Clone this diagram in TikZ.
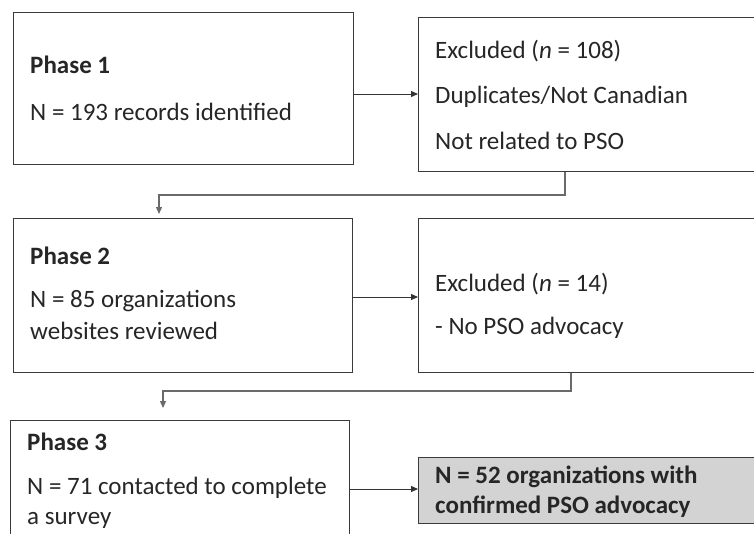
\documentclass[tikz,border=0pt]{standalone}
\usepackage{fontspec}
\setmainfont{Carlito}
\usetikzlibrary{arrows.meta,calc}
\definecolor{boxline}{HTML}{3A3A3A}
\definecolor{connline}{HTML}{6A6A6A}
\definecolor{grayfill}{HTML}{D4D3D3}
\begin{document}
\begin{tikzpicture}[x=1pt,y=-1pt,
  box/.style={draw=boxline,line width=1.3pt,rectangle,anchor=north west,inner sep=0pt},
  txt/.style={anchor=base west,inner sep=0pt,font=\fontsize{25}{29}\selectfont,text=black!85},
  btxt/.style={txt,font=\fontsize{25}{29}\selectfont\bfseries},
  arr/.style={draw=black!80,line width=1pt,-{Triangle[length=7pt,width=6pt]}},
  conn/.style={draw=connline,line width=1.2pt,-{Triangle[length=7pt,width=6pt]}}]
\useasboundingbox (0,0) rectangle (754,533);
% boxes
\node[box,minimum width=340pt,minimum height=152pt] (p1) at (13,12) {};
\node[box,minimum width=360pt,minimum height=154pt] (e1) at (418,17) {};
\node[box,minimum width=339pt,minimum height=154pt] (p2) at (13,218) {};
\node[box,minimum width=360pt,minimum height=154pt] (e2) at (418,218) {};
\node[box,minimum width=339pt,minimum height=140pt] (p3) at (10,420) {};
\node[box,fill=grayfill,minimum width=360pt,minimum height=66pt] (g) at (418,457) {};
% texts
\node[btxt] (t1a) at (30,73) {Phase 1};
\node[txt] (t1b) at (30,120) {N = 193 records identified};
\node[txt] (e1a) at (435,58) {Excluded (\textit{n} = 108)};
\node[txt] (e1b) at (435,103) {Duplicates/Not Canadian};
\node[txt] (e1c) at (435,149) {Not related to PSO};
\node[btxt] (t2a) at (30,264) {Phase 2};
\node[txt] (t2b) at (30,307) {N = 85 organizations};
\node[txt] (t2c) at (30,339) {websites reviewed};
\node[txt] (e2a) at (435,291) {Excluded (\textit{n} = 14)};
\node[txt] (e2b) at (435,334) {- No PSO advocacy};
\node[btxt] (t3a) at (27,450) {Phase 3};
\node[txt] (t3b) at (27,494) {N = 71 contacted to complete};
\node[txt] (t3c) at (27,524) {a survey};
\node[btxt] (ga) at (435,483) {N = 52 organizations with};
\node[btxt] (gb) at (435,513) {confirmed PSO advocacy};
% horizontal arrows
\draw[arr] (p1.east |- 0,94) -- (e1.west |- 0,94);
\draw[arr] (p2.east |- 0,297) -- (e2.west |- 0,297);
\draw[arr] (p3.east |- 0,489) -- (g.west |- 0,489);
% connectors between phases
\coordinate (j1) at (159,195);
\coordinate (j2) at (163,391);
\draw[conn,shorten >=4pt] ($(e1.south west)+(147,0)$) |- (j1) -- (p2.north -| j1);
\draw[conn,shorten >=12pt] ($(e2.south west)+(153,0)$) |- (j2) -- (p3.north -| j2);
\end{tikzpicture}
\end{document}
